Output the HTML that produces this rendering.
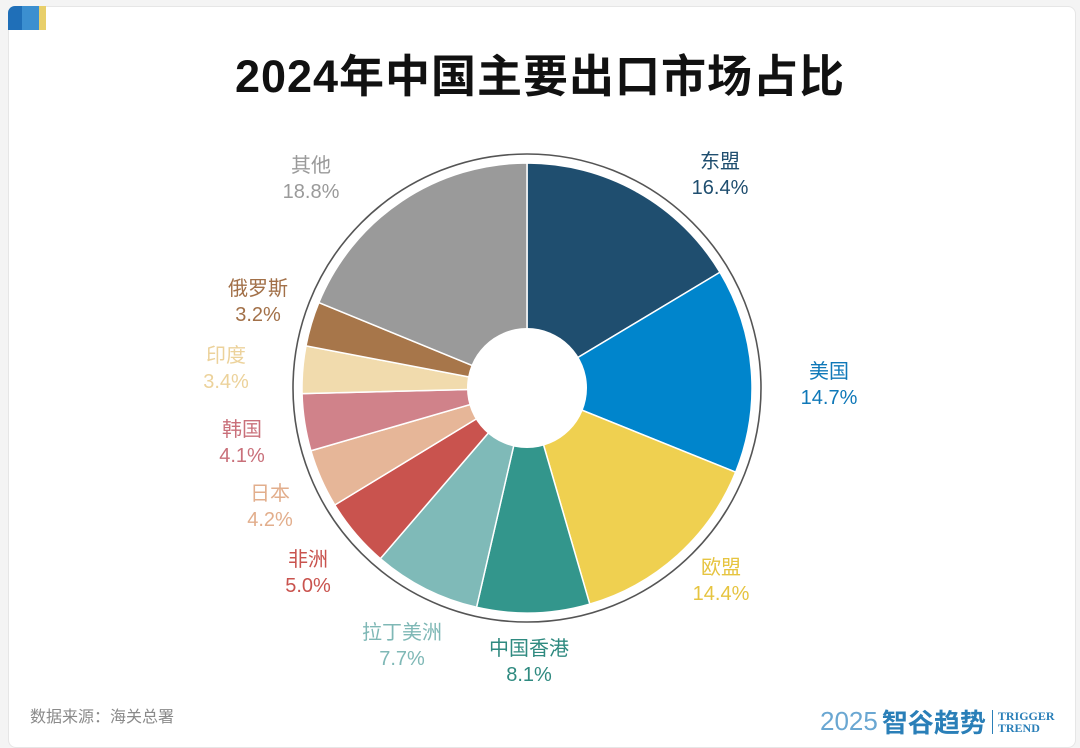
<!DOCTYPE html>
<html><head><meta charset="utf-8">
<style>
html,body{margin:0;padding:0;background:#f4f4f4;}
body{width:1080px;height:732px;position:relative;overflow:hidden;font-family:"Liberation Sans","Noto Sans CJK SC",sans-serif;}
#card{position:absolute;left:8px;top:6px;width:1066px;height:740px;background:#fff;border:1px solid #e6e6e6;border-radius:8px;}
#tab{position:absolute;left:8px;top:6px;width:38px;height:24px;border-radius:7px 0 0 0;overflow:hidden;display:flex;}
#title{position:absolute;left:0;width:1080px;top:46px;text-align:center;font-size:45px;font-weight:bold;color:#111;letter-spacing:1px;}
.lbl{position:absolute;font-size:20px;line-height:26px;text-align:center;transform:translateX(-50%);white-space:nowrap;}
#src{position:absolute;left:30px;top:703px;font-size:16px;color:#8a8a8a;}
#logo{position:absolute;left:820px;top:703px;color:#2a7fb8;display:flex;align-items:center;}
</style></head><body>
<div id="card"></div>
<div id="tab"><div style="width:14px;background:#1f6fb8"></div><div style="width:17px;background:#3b8fd0"></div><div style="width:7px;background:#e8cf6a"></div></div>
<div id="title" style="top:40px">2024年中国主要出口市场占比</div>
<svg id="pie" width="1080" height="732" style="position:absolute;left:0;top:0"></svg>
<div id="labels"></div>
<div id="src">数据来源：海关总署</div>
<div id="logo"><span style="font-size:26px;font-weight:300;color:#6aa7d2">2025</span><span style="font-size:26px;font-weight:bold;margin-left:4px">智谷趋势</span><span style="border-left:1px solid #2a7fb8;margin-left:6px;padding-left:5px;font-family:'Liberation Serif',serif;font-size:12px;line-height:12px;font-weight:bold">TRIGGER<br>TREND</span></div>
<script>
const categories=["东盟","美国","欧盟","中国香港","拉丁美洲","非洲","日本","韩国","印度","俄罗斯","其他"];
const values=[16.4,14.7,14.4,8.1,7.7,5.0,4.2,4.1,3.4,3.2,18.8];
const colors=["#1f4e6f","#0085cc","#efd050","#33968c","#7fbab8","#c9534e","#e6b698","#d0828a","#f1dbad","#a7764a","#9a9a9a"];
const labelPos=[[720,149],[829,359],[721,555],[529,636],[402,620],[308,547],[270,481],[242,417],[226,343],[258,276],[311,153]];
const labelColors=["#1f4e6f","#0f78b8","#e6c440","#2f8a80","#7fb8b6","#c9534e","#e2ae8c","#c9707a","#ecd29b","#a27048","#9a9a9a"];
const cx=527,cy=388,R=225,r0=60;
const svg=document.getElementById('pie');
const NS="http://www.w3.org/2000/svg";
const total=values.reduce((a,b)=>a+b,0);
function pt(a,rad){return [cx+rad*Math.sin(a),cy-rad*Math.cos(a)];}
const ring=document.createElementNS(NS,'circle');


ring.setAttribute('cx',cx);ring.setAttribute('cy',cy);ring.setAttribute('r',234);
ring.setAttribute('fill','none');ring.setAttribute('stroke','#555');ring.setAttribute('stroke-width','1.6');
svg.appendChild(ring);
let acc=0;
const labelsDiv=document.getElementById('labels');
values.forEach((v,i)=>{
  const a0=acc/total*2*Math.PI;acc+=v;const a1=acc/total*2*Math.PI;
  const p0=pt(a0,R),p1=pt(a1,R),large=(a1-a0)>Math.PI?1:0;
  const p=document.createElementNS(NS,'path');
  
  
  p.setAttribute('d',`M${cx},${cy}L${p0[0]},${p0[1]}A${R},${R} 0 ${large} 1 ${p1[0]},${p1[1]}Z`);
  p.setAttribute('fill',colors[i]);p.setAttribute('stroke','#fff');p.setAttribute('stroke-width','1.5');
  svg.appendChild(p);
  const d=document.createElement('div');
  
  
  d.className='lbl';d.style.left=labelPos[i][0]+'px';d.style.top=labelPos[i][1]+'px';d.style.color=labelColors[i];
  d.innerHTML=categories[i]+'<br>'+v.toFixed(1)+'%';
  labelsDiv.appendChild(d);
});
const hole=document.createElementNS(NS,'circle');


hole.setAttribute('cx',cx);hole.setAttribute('cy',cy);hole.setAttribute('r',r0);hole.setAttribute('fill','#fff');
svg.appendChild(hole);
</script>
</body></html>
